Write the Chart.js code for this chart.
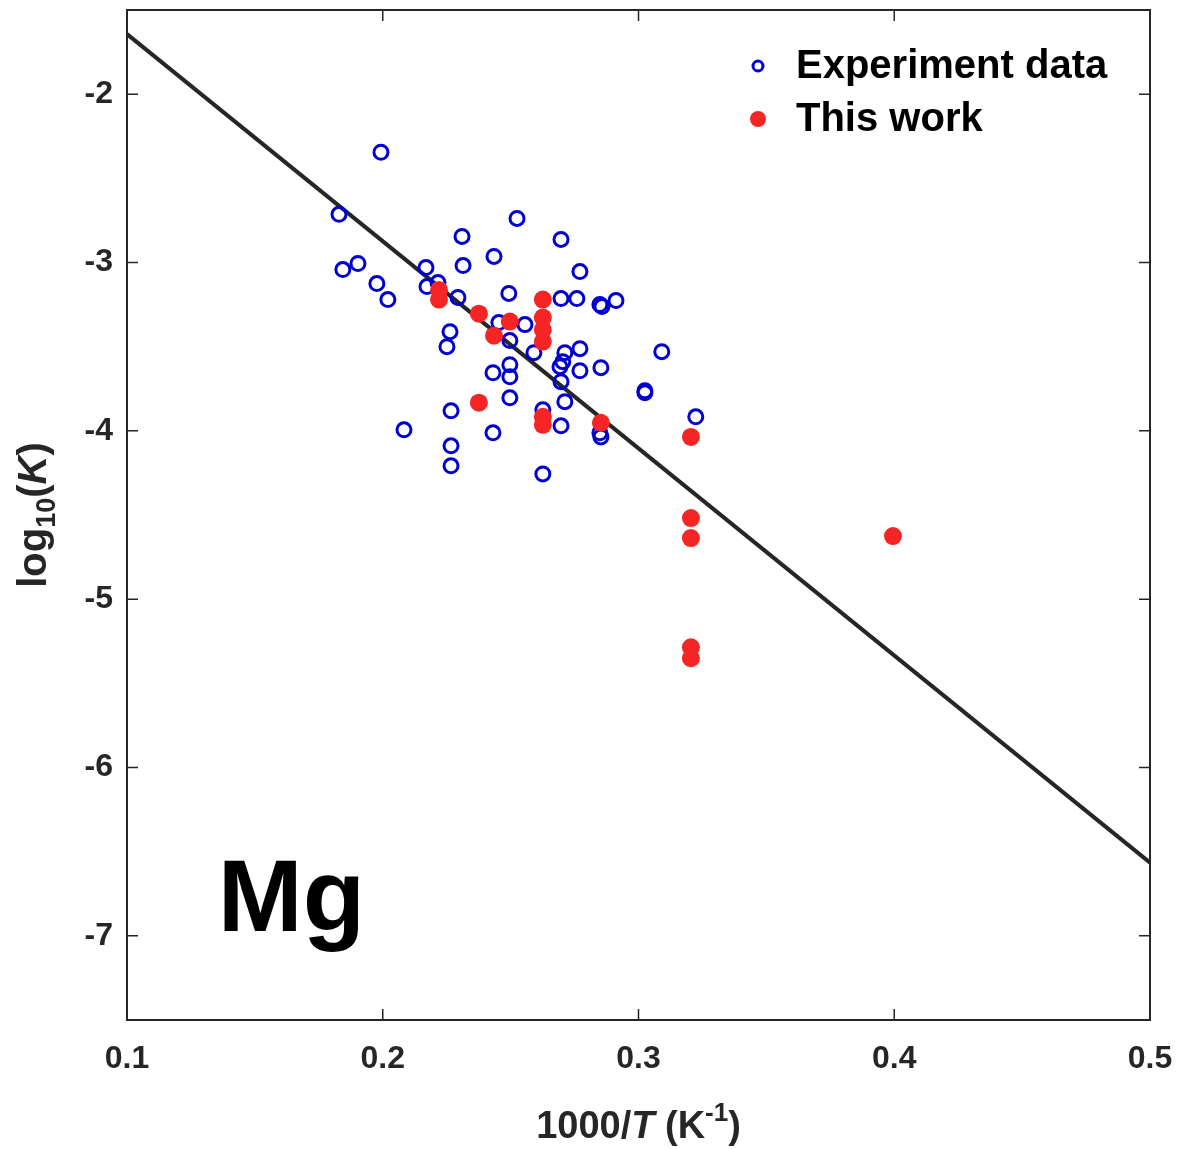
<!DOCTYPE html>
<html>
<head>
<meta charset="utf-8">
<script src="https://cdn.jsdelivr.net/npm/chart.js@4.4.1/dist/chart.umd.min.js"></script>
<style>
  body { margin: 0; background: #fff; }
  canvas { display: block; }
</style>
</head>
<body>
<canvas id="mgChart" width="1184" height="1149"></canvas>
<script>
// experiment data (blue open circles)
const expX = [0.1829, 0.1993, 0.1844, 0.1903, 0.1977, 0.2020, 0.2083, 0.2169, 0.2173, 0.2216,
  0.2263, 0.2251, 0.2267, 0.2267, 0.2267, 0.2294, 0.2310, 0.2314, 0.2435, 0.2431,
  0.2431, 0.2454, 0.2493, 0.2497, 0.2497, 0.2497, 0.2497, 0.2525, 0.2556, 0.2591,
  0.2626, 0.2626, 0.2697, 0.2697, 0.2704, 0.2693, 0.2697, 0.2697, 0.2712, 0.2712,
  0.2759, 0.2771, 0.2771, 0.2771, 0.2849, 0.2857, 0.2849, 0.2853, 0.2853, 0.2912,
  0.3025, 0.3025, 0.3091, 0.3224];
const expY = [-2.714, -2.345, -3.042, -3.006, -3.125, -3.220, -3.994, -3.030, -3.143, -3.119,
  -3.411, -3.500, -3.881, -4.089, -4.208, -3.208, -2.845, -3.018, -2.964, -3.655,
  -4.012, -3.357, -3.184, -3.464, -3.607, -3.679, -3.804, -2.738, -3.369, -3.536,
  -3.875, -4.256, -2.863, -3.214, -3.589, -3.619, -3.708, -3.970, -3.536, -3.827,
  -3.214, -3.054, -3.512, -3.643, -3.250, -3.262, -4.012, -4.036, -3.625, -3.226,
  -3.762, -3.774, -3.530, -3.917];

// this work (red filled dots)
const workX = [0.2220, 0.2220, 0.2376, 0.2435, 0.2497, 0.2626, 0.2626, 0.2626, 0.2626, 0.2376,
  0.2626, 0.2626, 0.2853, 0.3205, 0.3205, 0.3205, 0.3205, 0.3205, 0.3995];
const workY = [-3.163, -3.220, -3.304, -3.435, -3.351, -3.220, -3.327, -3.399, -3.470, -3.833,
  -3.917, -3.964, -3.952, -4.036, -4.518, -4.637, -5.286, -5.351, -4.625];

// fitted line
const fitX = [0.1, 0.5];
const fitY = [-1.643, -6.565];

const xTicks = [0.1, 0.2, 0.3, 0.4, 0.5];
const yTicks = [-7, -6, -5, -4, -3, -2];

const ink = "#262626";
const fam = '"Liberation Sans", Arial, sans-serif';

const toPts = (xs, ys) => xs.map((x, i) => ({ x: x, y: ys[i] }));

function drawRich(ctx, parts, x, y, align) {
  let total = 0;
  parts.forEach(p => { ctx.font = p.f; total += ctx.measureText(p.t).width; });
  let cx = align === "center" ? x - total / 2 : x;
  parts.forEach(p => {
    ctx.font = p.f;
    ctx.fillText(p.t, cx, y + (p.dy || 0));
    cx += ctx.measureText(p.t).width;
  });
}

function noPad(s) {
  s.paddingTop = 0; s.paddingBottom = 0; s.paddingLeft = 0; s.paddingRight = 0;
}

const decor = {
  id: "decor",
  afterDraw(chart) {
    const ctx = chart.ctx;
    const a = chart.chartArea;
    const xs = chart.scales.x, ys = chart.scales.y;
    ctx.save();
    // frame and inward ticks
    ctx.strokeStyle = ink;
    ctx.lineWidth = 2;
    ctx.strokeRect(a.left, a.top, a.right - a.left, a.bottom - a.top);
    ctx.lineWidth = 1.5;
    ctx.beginPath();
    xTicks.forEach(v => {
      const px = xs.getPixelForValue(v);
      ctx.moveTo(px, a.bottom); ctx.lineTo(px, a.bottom - 11);
      ctx.moveTo(px, a.top); ctx.lineTo(px, a.top + 11);
    });
    yTicks.forEach(v => {
      const py = ys.getPixelForValue(v);
      ctx.moveTo(a.left, py); ctx.lineTo(a.left + 11, py);
      ctx.moveTo(a.right, py); ctx.lineTo(a.right - 11, py);
    });
    ctx.stroke();

    ctx.fillStyle = ink;
    ctx.textBaseline = "alphabetic";
    ctx.textAlign = "left";
    // x title
    drawRich(ctx, [
      { t: "1000/", f: "bold 38px " + fam },
      { t: "T", f: "italic bold 38px " + fam },
      { t: " (K", f: "bold 38px " + fam },
      { t: "-1", f: "bold 26px " + fam, dy: -17 },
      { t: ")", f: "bold 38px " + fam }
    ], (a.left + a.right) / 2, 1138, "center");
    // y title
    ctx.save();
    ctx.translate(46, (a.top + a.bottom) / 2);
    ctx.rotate(-Math.PI / 2);
    drawRich(ctx, [
      { t: "log", f: "bold 40px " + fam },
      { t: "10", f: "bold 27px " + fam, dy: 9 },
      { t: "(", f: "bold 40px " + fam },
      { t: "K", f: "italic bold 40px " + fam },
      { t: ")", f: "bold 40px " + fam }
    ], 0, 0, "center");
    ctx.restore();

    // legend
    const lx = a.right - 392;
    ctx.strokeStyle = "#0000d0";
    ctx.lineWidth = 3;
    ctx.beginPath();
    ctx.arc(lx, a.top + 56, 5, 0, Math.PI * 2);
    ctx.stroke();
    ctx.fillStyle = "#f52525";
    ctx.beginPath();
    ctx.arc(lx, a.top + 109, 8, 0, Math.PI * 2);
    ctx.fill();
    ctx.fillStyle = "#000";
    ctx.font = "bold 40px " + fam;
    ctx.textBaseline = "middle";
    ctx.fillText("Experiment data", lx + 38, a.top + 57);
    ctx.fillText("This work", lx + 38, a.top + 110);

    // element label
    ctx.textBaseline = "alphabetic";
    ctx.font = "bold 102px " + fam;
    ctx.fillText("Mg", xs.getPixelForValue(0.1355), ys.getPixelForValue(-6.97));
    ctx.restore();
  }
};

new Chart(document.getElementById("mgChart"), {
  type: "scatter",
  data: {
    datasets: [
      {
        label: "Experiment data",
        data: toPts(expX, expY),
        pointStyle: "circle",
        pointRadius: 7,
        pointBorderWidth: 3,
        borderColor: "#0000d0",
        backgroundColor: "rgba(0,0,0,0)",
        order: 2
      },
      {
        label: "This work",
        data: toPts(workX, workY),
        pointRadius: 9,
        pointBorderWidth: 0,
        borderColor: "#f52525",
        backgroundColor: "#f52525",
        order: 1
      },
      {
        label: "fit",
        type: "line",
        data: toPts(fitX, fitY),
        borderColor: ink,
        borderWidth: 4,
        pointRadius: 0,
        fill: false,
        order: 3
      }
    ]
  },
  options: {
    responsive: false,
    animation: false,
    devicePixelRatio: 1,
    layout: { padding: { left: 0, top: 10, right: 34, bottom: 0 } },
    plugins: {
      legend: { display: false },
      tooltip: { enabled: false }
    },
    scales: {
      x: {
        type: "linear",
        min: 0.1,
        max: 0.5,
        afterBuildTicks: s => { s.ticks = xTicks.map(v => ({ value: v })); },
        afterFit: s => { s.height = 129; noPad(s); },
        grid: { display: false },
        border: { display: false },
        ticks: {
          padding: 12,
          color: ink,
          font: { family: fam, size: 32, weight: "bold" },
          callback: v => v.toFixed(1),
          maxRotation: 0
        }
      },
      y: {
        type: "linear",
        min: -7.5,
        max: -1.5,
        afterBuildTicks: s => { s.ticks = yTicks.map(v => ({ value: v })); },
        afterFit: s => { s.width = 127; noPad(s); },
        grid: { display: false },
        border: { display: false },
        ticks: {
          padding: 6,
          color: ink,
          font: { family: fam, size: 32, weight: "bold" }
        }
      }
    }
  },
  plugins: [decor]
});
</script>
</body>
</html>
